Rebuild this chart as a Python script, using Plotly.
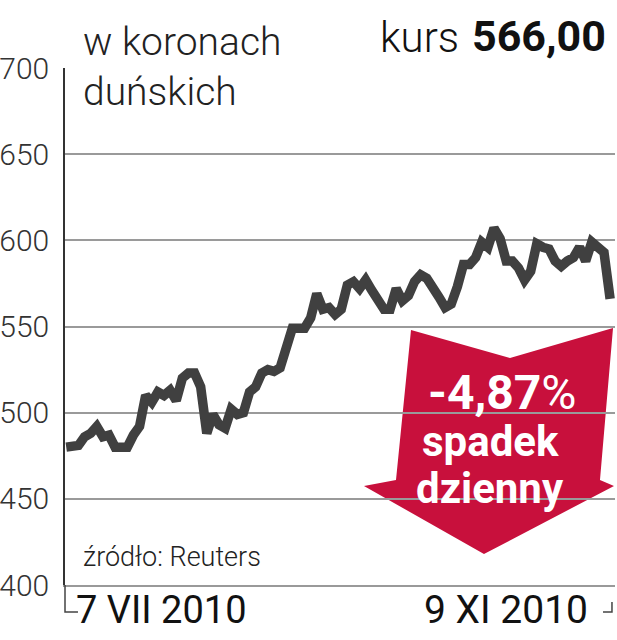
import plotly.graph_objects as go
import pandas as pd

# ---- data ----
dates = [d.strftime("%Y-%m-%d") for d in pd.bdate_range("2010-07-07", "2010-11-09")]
prices = [480, 480, 481, 486, 488, 492, 486, 487, 480, 480,
          480, 487, 492, 510, 506, 512, 510, 513, 507, 520,
          523, 523, 515, 488, 499, 493, 491, 502, 499, 500,
          512, 515, 523, 525, 524, 526, 538, 549, 549, 549,
          555, 569, 560, 561, 557, 560, 574, 576, 572, 577,
          571, 565, 560, 560, 572, 565, 568, 576, 580, 578,
          571, 567, 561, 563, 573, 586, 586, 590, 599, 596,
          607, 601, 588, 588, 584, 577, 582, 598, 596, 595,
          588, 585, 588, 590, 596, 588, 599, 596, 593, 566]
y_ticks = [400, 450, 500, 550, 600, 650, 700]
x_labels = ["7 VII 2010", "9 XI 2010"]
title_lines = ["w koronach", "duńskich"]
kurs_label = "kurs"
kurs_value = "566,00"
change_text = "-4,87"
change_words = ["spadek", "dzienny"]
source = "źródło: Reuters"

W, H = 617, 640
L, R, T, B = 65, 2, 68, 55
PW, PH = W - L - R, H - T - B

def px(x):
    return (x - L) / PW

def py(y):
    return (H - B - y) / PH

FONT = "Roboto"
RED = "#c8103c"
LINE = "#404040"

fig = go.Figure()
fig.add_trace(go.Scatter(
    x=list(range(len(dates))), y=prices, mode="lines",
    line=dict(color=LINE, width=9.5), hoverinfo="skip", showlegend=False,
    customdata=dates, cliponaxis=False,
))

# arrow shape (decoration) in paper coords
pts = [(411, 330), (510, 358), (613, 328), (600, 480), (614, 486),
       (484, 554), (364, 486), (396, 480)]
path = "M " + " L ".join(f"{px(x):.4f},{py(y):.4f}" for x, y in pts) + " Z"

shapes = [
    dict(type="path", xref="paper", yref="paper", path=path,
         fillcolor=RED, line=dict(width=0), layer="below"),
    dict(type="path", xref="paper", yref="paper",
         path=f"M {px(65):.4f},{py(585):.4f} L {px(65):.4f},{py(612):.4f} L {px(78):.4f},{py(612):.4f}",
         line=dict(color="#444", width=1.5)),
    dict(type="path", xref="paper", yref="paper",
         path=f"M {px(603):.4f},{py(612):.4f} L {px(612):.4f},{py(612):.4f} L {px(612):.4f},{py(602):.4f}",
         line=dict(color="#444", width=1.5)),
]

ann = []
ann.append(dict(text=title_lines[0], x=px(81), y=py(42), xref="paper", yref="paper",
                xanchor="left", yanchor="middle", showarrow=False,
                font=dict(family=FONT, size=39, color="#222", weight=300)))
ann.append(dict(text=title_lines[1], x=px(81), y=py(92), xref="paper", yref="paper",
                xanchor="left", yanchor="middle", showarrow=False,
                font=dict(family=FONT, size=39, color="#222", weight=300)))
ann.append(dict(text=kurs_label, x=px(461), y=py(37),
                xref="paper", yref="paper", xanchor="right", yanchor="middle",
                showarrow=False, font=dict(family=FONT, size=42, color="#111", weight=300)))
ann.append(dict(text=f"<b>{kurs_value}</b>", x=px(608), y=py(36),
                xref="paper", yref="paper", xanchor="right", yanchor="middle",
                showarrow=False, font=dict(family=FONT, size=43, color="#111")))
ann.append(dict(text=source, x=px(81), y=py(557), xref="paper", yref="paper",
                xanchor="left", yanchor="middle", showarrow=False,
                font=dict(family=FONT, size=27, color="#222", weight=300)))
ann.append(dict(text=f"<b>{change_text}</b>%", x=px(502), y=py(393), xref="paper", yref="paper",
                xanchor="center", yanchor="middle", showarrow=False,
                font=dict(family=FONT, size=48, color="white")))
for i, wtxt in enumerate(change_words):
    ann.append(dict(text=f"<b>{wtxt}</b>", x=px(490), y=py(442 + 46 * i), xref="paper", yref="paper",
                    xanchor="center", yanchor="middle", showarrow=False,
                    font=dict(family=FONT, size=42, color="white")))
ann.append(dict(text=x_labels[0], x=0, y=py(610), xref="x", yref="paper",
                xanchor="left", yanchor="middle", xshift=8, showarrow=False,
                font=dict(family=FONT, size=38, color="#111")))
ann.append(dict(text=x_labels[1], x=len(dates) - 1, y=py(610), xref="x", yref="paper",
                xanchor="right", yanchor="middle", xshift=-20, showarrow=False,
                font=dict(family=FONT, size=39, color="#111")))

fig.update_layout(
    width=W, height=H, margin=dict(l=L, r=R, t=T, b=B, autoexpand=False),
    paper_bgcolor="white", plot_bgcolor="white",
    shapes=shapes, annotations=ann, showlegend=False,
    xaxis=dict(range=[-0.2, len(dates) - 0.2], showgrid=False, zeroline=False, automargin=False,
               showticklabels=False, showline=True, linecolor="#999", linewidth=1.5),
    yaxis=dict(range=[400, 700], tickvals=y_ticks, showgrid=True, gridcolor="#9a9a9a",
               gridwidth=1.5, zeroline=False, showline=True, linecolor="#333", linewidth=1.5,
               automargin=False, ticks="",
               tickfont=dict(family=FONT, size=30, color="#333", weight=300),
               ticklabelstandoff=8),
)

fig.write_html("out.html", config={"displayModeBar": False},
               post_script="document.body.style.margin='0';document.body.style.padding='0';")
